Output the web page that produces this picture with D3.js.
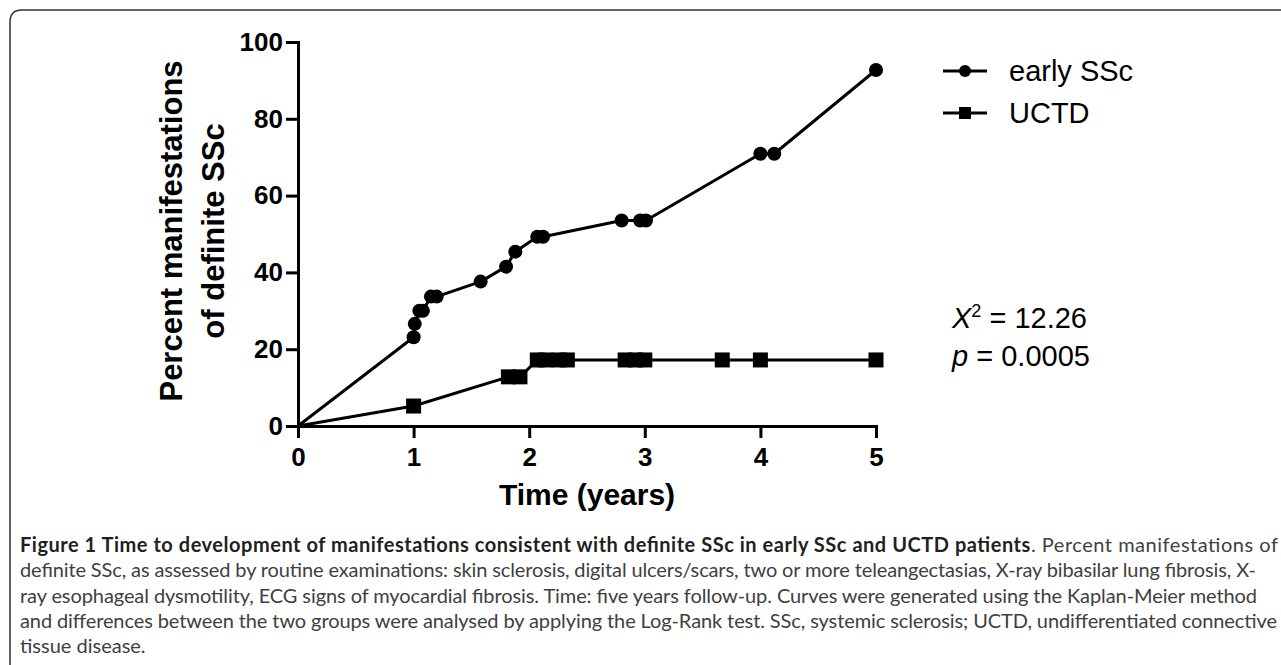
<!DOCTYPE html>
<html>
<head>
<meta charset="utf-8">
<script src="https://cdn.jsdelivr.net/npm/d3@7"></script>
<style>
   body { margin: 0; background: #fff; }
   svg { display: block; }
</style>
</head>
<body>
<div id="container"></div>
<script>
const seriesNames = ['early SSc', 'UCTD'];

const earlyTimes = [0, 1.0, 1.01, 1.05, 1.08, 1.15, 1.2, 1.58, 1.8, 1.88, 2.07, 2.12, 2.8, 2.96, 3.01, 4.0, 4.12, 5.0];
const earlyValues = [0, 23.1, 26.6, 30, 30, 33.7, 33.7, 37.6, 41.5, 45.4, 49.3, 49.3, 53.5, 53.5, 53.5, 70.9, 70.9, 92.7];

const uctdTimes = [0, 1.0, 1.82, 1.92, 2.07, 2.14, 2.26, 2.33, 2.83, 2.92, 3.0, 3.67, 4.0, 5.0];
const uctdValues = [0, 5.2, 12.8, 12.8, 17.2, 17.2, 17.2, 17.2, 17.2, 17.2, 17.2, 17.2, 17.2, 17.2];

const xTicks = [0, 1, 2, 3, 4, 5];
const yTicks = [0, 20, 40, 60, 80, 100];

const captionBold = 'Figure 1 Time to development of manifestations consistent with definite SSc in early SSc and UCTD patients';
const captionLines = [
   '. Percent manifestations of',
   'definite SSc, as assessed by routine examinations: skin sclerosis, digital ulcers/scars, two or more teleangectasias, X-ray bibasilar lung fibrosis, X-',
   'ray esophageal dysmotility, ECG signs of myocardial fibrosis. Time: five years follow-up. Curves were generated using the Kaplan-Meier method',
   'and differences between the two groups were analysed by applying the Log-Rank test. SSc, systemic sclerosis; UCTD, undifferentiated connective',
   'tissue disease.'
];
// measured line widths in the printed caption (last line left natural)
const captionWidths = [1258, 1236, 1237, 1257, null];

document.addEventListener('DOMContentLoaded', function() {
   const w = 1281;
   const h = 665;

   const svg = d3
      .select('#container')
      .append('svg')
      .attr('width', w)
      .attr('height', h);

   // rounded frame, runs off the right and bottom edges
   svg.append('path')
      .attr('d', 'M10,680 L10,22 Q10,10 22,10 L1300,10')
      .attr('fill', 'none')
      .attr('stroke', '#333')
      .attr('stroke-width', 1.5);

   const x = d3.scaleLinear().domain([0, 5]).range([298, 876]);
   const y = d3.scaleLinear().domain([0, 100]).range([426, 42]);

   const font = '"Liberation Sans", Arial, sans-serif';

   const xAxis = svg.append('g')
      .attr('transform', 'translate(0,426)')
      .call(d3.axisBottom(x).tickValues(xTicks).tickFormat(d3.format('d')).tickSize(12).tickSizeOuter(0).tickPadding(10));
   const yAxis = svg.append('g')
      .attr('transform', 'translate(298,0)')
      .call(d3.axisLeft(y).tickValues(yTicks).tickSize(12).tickSizeOuter(0).tickPadding(3));

   [xAxis, yAxis].forEach(a => {
      a.select('.domain').attr('stroke', '#000').attr('stroke-width', 3).attr('stroke-linecap', 'square');
      a.selectAll('.tick line').attr('stroke', '#000').attr('stroke-width', 3);
      a.selectAll('.tick text')
         .attr('fill', '#000')
         .style('font-family', font)
         .style('font-weight', 'bold')
         .style('font-size', '26px');
   });

   // axis titles
   svg.append('text')
      .attr('x', 587)
      .attr('y', 505)
      .attr('text-anchor', 'middle')
      .style('font-family', font)
      .style('font-weight', 'bold')
      .style('font-size', '30px')
      .text('Time (years)');

   const yTitle = svg.append('text')
      .attr('transform', 'translate(0,231) rotate(-90)')
      .attr('text-anchor', 'middle')
      .style('font-family', font)
      .style('font-weight', 'bold')
      .style('font-size', '31px');
   yTitle.append('tspan').attr('x', 0).attr('y', 182).text('Percent manifestations');
   yTitle.append('tspan').attr('x', 0).attr('y', 224).text('of definite SSc');

   const line = d3.line()
      .x(d => x(d[0]))
      .y(d => y(d[1]));

   const early = earlyTimes.map((t, i) => [t, earlyValues[i]]);
   const uctd = uctdTimes.map((t, i) => [t, uctdValues[i]]);

   [early, uctd].forEach(s => {
      svg.append('path')
         .datum(s)
         .attr('d', line)
         .attr('fill', 'none')
         .attr('stroke', '#000')
         .attr('stroke-width', 3)
         .attr('stroke-linejoin', 'round');
   });

   svg.selectAll('circle.early')
      .data(early.filter(d => d[0] > 0))
      .enter()
      .append('circle')
      .attr('class', 'early')
      .attr('cx', d => x(d[0]))
      .attr('cy', d => y(d[1]))
      .attr('r', 7)
      .attr('fill', '#000');

   svg.selectAll('rect.uctd')
      .data(uctd.filter(d => d[0] > 0))
      .enter()
      .append('rect')
      .attr('class', 'uctd')
      .attr('x', d => x(d[0]) - 7.5)
      .attr('y', d => y(d[1]) - 7.5)
      .attr('width', 15)
      .attr('height', 15)
      .attr('fill', '#000');

   // legend
   const legend = svg.append('g');
   seriesNames.forEach((name, i) => {
      const ly = 71 + i * 42;
      legend.append('line')
         .attr('x1', 943).attr('x2', 987)
         .attr('y1', ly).attr('y2', ly)
         .attr('stroke', '#000')
         .attr('stroke-width', 3);
      if (i === 0) {
         legend.append('circle').attr('cx', 965).attr('cy', ly).attr('r', 6).attr('fill', '#000');
      } else {
         legend.append('rect').attr('x', 959).attr('y', ly - 6).attr('width', 12).attr('height', 12).attr('fill', '#000');
      }
      legend.append('text')
         .attr('x', 1009)
         .attr('y', ly + 10)
         .style('font-family', font)
         .style('font-size', '29px')
         .text(name);
   });

   // test statistic
   const chi = svg.append('text')
      .attr('x', 952)
      .attr('y', 328)
      .style('font-family', font)
      .style('font-size', '29px');
   chi.append('tspan').style('font-style', 'italic').text('X');
   chi.append('tspan').attr('dy', -11).style('font-size', '18px').text('2');
   chi.append('tspan').attr('dy', 11).text(' = 12.26');

   const pv = svg.append('text')
      .attr('x', 952)
      .attr('y', 366)
      .style('font-family', font)
      .style('font-size', '29px');
   pv.append('tspan').style('font-style', 'italic').text('p');
   pv.append('tspan').text(' = 0.0005');

   // caption
   const capFont = 'Lato, "Open Sans", sans-serif';
   captionLines.forEach((txt, i) => {
      const t = svg.append('text')
         .attr('x', 20)
         .attr('y', 552 + i * 25.3)
         .attr('fill', '#404040')
         .style('font-family', capFont)
         .style('font-size', '20px');
      if (i === 0) {
         t.append('tspan').attr('fill', '#231f20').style('font-weight', 'bold').text(captionBold);
      }
      t.append('tspan').text(txt);
      if (captionWidths[i]) {
         t.attr('textLength', captionWidths[i]).attr('lengthAdjust', 'spacing');
      }
   });
});
</script>
</body>
</html>
